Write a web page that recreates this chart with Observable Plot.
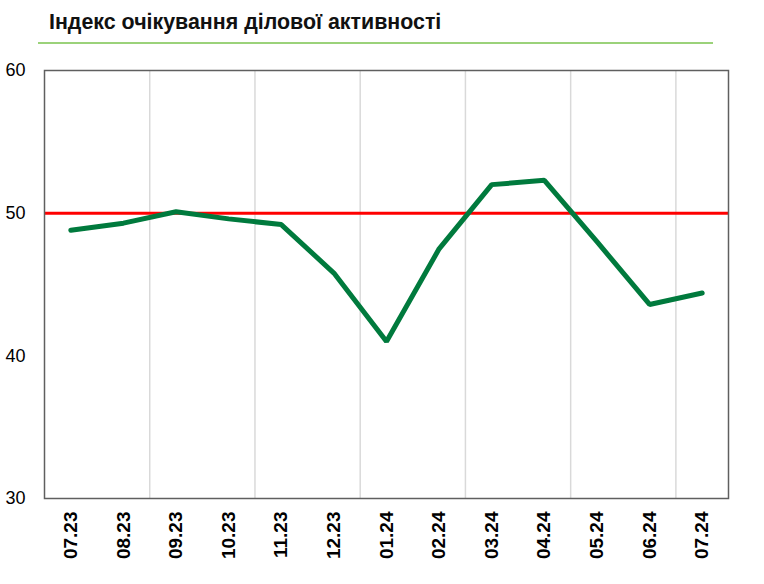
<!DOCTYPE html>
<html>
<head>
<meta charset="utf-8">
<script src="https://cdn.jsdelivr.net/npm/d3@7"></script>
<script src="https://cdn.jsdelivr.net/npm/@observablehq/plot@0.6"></script>
<style>
  html, body { margin: 0; padding: 0; background: #fff; overflow: hidden; }
  #wrap { position: relative; width: 764px; height: 584px; font-family: "Liberation Sans", Arial, sans-serif; }
  #title { position: absolute; left: 49px; top: 10px; font-size: 21.4px; font-weight: bold; color: #111; white-space: nowrap; }
  #rule { position: absolute; left: 38px; top: 42px; width: 675px; height: 2px; background: #9bd27a; }
  #chart { position: absolute; left: 0; top: 44px; }
</style>
</head>
<body>
<div id="wrap">
  <div id="title">Індекс очікування ділової активності</div>
  <div id="rule"></div>
  <div id="chart"></div>
</div>
<script>
const months = ["07.23","08.23","09.23","10.23","11.23","12.23","01.24","02.24","03.24","04.24","05.24","06.24","07.24"];
const values = [48.8, 49.3, 50.1, 49.6, 49.2, 45.8, 41.0, 47.5, 52.0, 52.3, 48.0, 43.6, 44.4];
const yTicks = [30, 40, 50, 60];
const threshold = 50;
const gridAfter = [1.5, 3.5, 5.5, 7.5, 9.5, 11.5];

const data = months.map((m, i) => ({i, m, v: values[i]}));

const chart = Plot.plot({
  width: 764,
  height: 540,
  marginTop: 26,
  marginBottom: 86,
  marginLeft: 44,
  marginRight: 36,
  style: {fontFamily: "'Liberation Sans', Arial, sans-serif", background: "transparent"},
  x: {type: "linear", domain: [-0.5, months.length - 0.5]},
  y: {domain: [30, 60]},
  marks: [
    Plot.ruleX(gridAfter, {stroke: "#d9d9d9", strokeWidth: 1.5}),
    Plot.ruleY([threshold], {stroke: "#ff0000", strokeWidth: 3}),
    Plot.line(data, {x: "i", y: "v", stroke: "#007a3d", strokeWidth: 5, strokeLinejoin: "miter", strokeLinecap: "round"}),
    Plot.frame({stroke: "#5f5f5f", strokeWidth: 1.5}),
    Plot.axisY({ticks: yTicks, tickSize: 0, tickPadding: 19, fontSize: 18, fill: "#000", label: null}),
    Plot.axisX({ticks: months.map((_, i) => i), tickFormat: i => months[i], tickSize: 0, tickPadding: 13, tickRotate: -90, fontSize: 19, fontWeight: "bold", fill: "#000", label: null})
  ]
});
document.getElementById("chart").appendChild(chart);
</script>
</body>
</html>
